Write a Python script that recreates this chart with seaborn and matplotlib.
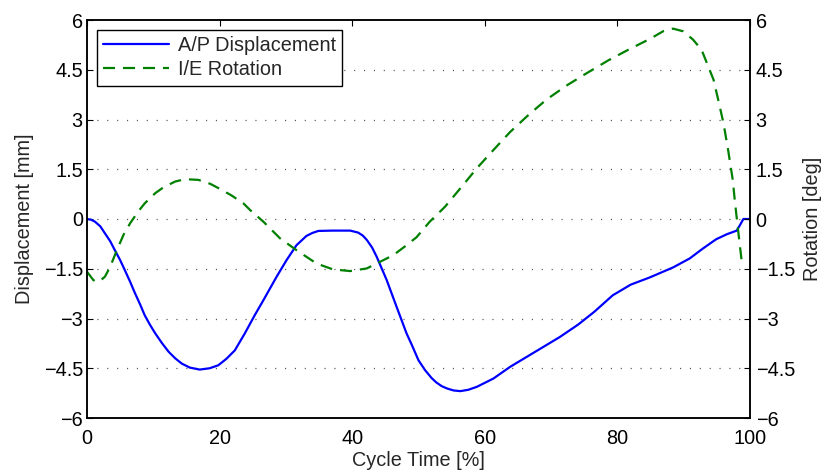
import numpy as np
import pandas as pd
import matplotlib
matplotlib.use("Agg")
import matplotlib.pyplot as plt
import seaborn as sns

# ---- data ----
disp_x = [0, 0.6, 1.2, 2.0, 2.7, 3.5, 4.2, 5.0, 5.7, 6.5, 7.2, 8.0, 8.7, 9.5, 10.3,
          11.3, 12.3, 13.3, 14.3, 15.5, 17.0, 18.5, 19.8, 21.0, 22.3, 23.8, 25.3,
          26.6, 28.6, 30.1, 31.6, 33.1, 34.0, 34.9, 37.0, 39.7, 40.9, 41.6, 42.2,
          43.0, 43.7, 45.2, 46.7, 48.2, 49.0, 50.0, 51.0, 52.0, 52.7, 53.5, 54.3,
          55.3, 56.3, 57.5, 58.8, 61.3, 63.8, 66.3, 68.8, 71.3, 74.1, 76.5, 79.3,
          82.0, 84.9, 88.4, 90.9, 92.9, 94.9, 96.5, 98.0, 98.5, 99.0, 100]
disp_y = [0, -0.02, -0.08, -0.22, -0.43, -0.67, -0.94, -1.24, -1.54, -1.89, -2.22,
          -2.57, -2.9, -3.19, -3.45, -3.74, -4.0, -4.2, -4.36, -4.48, -4.54, -4.5,
          -4.41, -4.22, -3.96, -3.45, -2.9, -2.45, -1.74, -1.24, -0.79, -0.51,
          -0.42, -0.36, -0.35, -0.35, -0.41, -0.5, -0.63, -0.86, -1.14, -1.84,
          -2.65, -3.45, -3.8, -4.26, -4.56, -4.8, -4.93, -5.04, -5.11, -5.17,
          -5.19, -5.15, -5.06, -4.81, -4.46, -4.16, -3.86, -3.56, -3.18, -2.8,
          -2.3, -1.98, -1.76, -1.46, -1.19, -0.89, -0.61, -0.46, -0.35, -0.18, 0, 0]

rot_x = [0, 0.5, 0.95, 1.5, 2.0, 2.7, 3.5, 4.5, 5.5, 6.5, 7.7, 8.7, 10.3, 11.5,
         13.3, 14.8, 16.8, 18.6, 20.3, 21.8, 23.6, 24.6, 26.6, 29.1, 31.6, 34.6,
         37.1, 39.7, 42.2, 44.2, 46.2, 48.2, 49.7, 51.7, 54.0, 56.5, 58.8, 61.3,
         63.8, 66.6, 69.3, 72.3, 75.4, 78.6, 81.9, 84.9, 86.9, 88.4, 89.9, 91.4,
         92.7, 93.5, 94.5, 95.2, 96.0, 96.7, 97.4, 97.7, 98.2, 98.7, 98.9]
rot_y = [-1.59, -1.72, -1.84, -1.9, -1.86, -1.74, -1.44, -0.94, -0.48, -0.13, 0.22,
         0.47, 0.78, 0.95, 1.13, 1.2, 1.18, 1.06, 0.88, 0.71, 0.47, 0.27, -0.08,
         -0.58, -0.94, -1.34, -1.52, -1.57, -1.49, -1.29, -1.09, -0.79, -0.55,
         -0.08, 0.37, 0.97, 1.53, 2.08, 2.62, 3.14, 3.6, 4.02, 4.4, 4.78, 5.13,
         5.43, 5.66, 5.74, 5.66, 5.41, 5.1, 4.7, 4.2, 3.6, 2.89, 2.08, 1.18, 0.57,
         -0.33, -1.19, -1.45]

x_ticks = [0, 20, 40, 60, 80, 100]
y_ticks = [-6, -4.5, -3, -1.5, 0, 1.5, 3, 4.5, 6]
y_tick_labels = ["\u22126", "\u22124.5", "\u22123", "\u22121.5", "0", "1.5", "3", "4.5", "6"]

series_names = ["A/P Displacement", "I/E Rotation"]
x_label = "Cycle Time [%]"
y_label_left = "Displacement [mm]"
y_label_right = "Rotation [deg]"

FS = 14.3

# ---- styling ----
sns.set_style("white")
plt.rcParams["font.family"] = ["Liberation Sans", "DejaVu Sans"]
plt.rcParams["axes.unicode_minus"] = True

fig = plt.figure(figsize=(8.25, 4.76), dpi=100)
ax = fig.add_axes([87 / 825, 1 - 418 / 476, 663 / 825, 398 / 476])
ax2 = ax.twinx()

df_d = pd.DataFrame({"x": disp_x, "y": disp_y})
df_r = pd.DataFrame({"x": rot_x, "y": rot_y})

sns.lineplot(data=df_d, x="x", y="y", ax=ax, color="#0000ff", linewidth=1.6,
             sort=False, estimator=None, label=series_names[0])
sns.lineplot(data=df_r, x="x", y="y", ax=ax2, color="#008000", linewidth=1.6,
             sort=False, estimator=None, label=series_names[1],
             linestyle=(0, (5.4, 3.6)))

for a in (ax, ax2):
    if a.get_legend() is not None:
        a.get_legend().remove()
    a.set_xlim(0, 100)
    a.set_ylim(-6, 6)
    a.set_yticks(y_ticks)
    a.set_yticklabels(y_tick_labels)
    for s in a.spines.values():
        s.set_linewidth(1.1)
        s.set_color("black")
        s.set_visible(True)

ax.set_xticks(x_ticks)
ax.set_xticklabels([str(t) for t in x_ticks])

ax.tick_params(axis="both", which="both", direction="in", length=4, width=0.8,
               labelsize=FS, colors="black", top=True, right=False, pad=3)
ax.tick_params(axis="x", pad=8)
ax2.tick_params(axis="y", direction="in", length=4, width=0.8, labelsize=FS,
                colors="black", right=True, left=False, pad=4)

# dotted horizontal grid
for yv in y_ticks[1:-1]:
    ax.axhline(yv, color="#555555", linewidth=0.9, linestyle=(0, (0.9, 7.0)), zorder=0.5)

ax.set_xlabel(x_label, fontsize=FS, labelpad=2)
ax.set_ylabel(y_label_left, fontsize=FS, labelpad=7)
ax2.set_ylabel(y_label_right, fontsize=FS, labelpad=6)

handles = ax.get_lines()[:1] + ax2.get_lines()[:1]
leg = ax2.legend(handles, series_names, loc="upper left",
                 bbox_to_anchor=(0.015, 0.975), borderaxespad=0, fontsize=FS,
                 frameon=True, fancybox=False, framealpha=1, edgecolor="black",
                 handlelength=3.3, handletextpad=0.45, labelspacing=0.25,
                 borderpad=0.32)
leg.get_frame().set_linewidth(1.0)

fig.savefig("out.png", dpi=100)
